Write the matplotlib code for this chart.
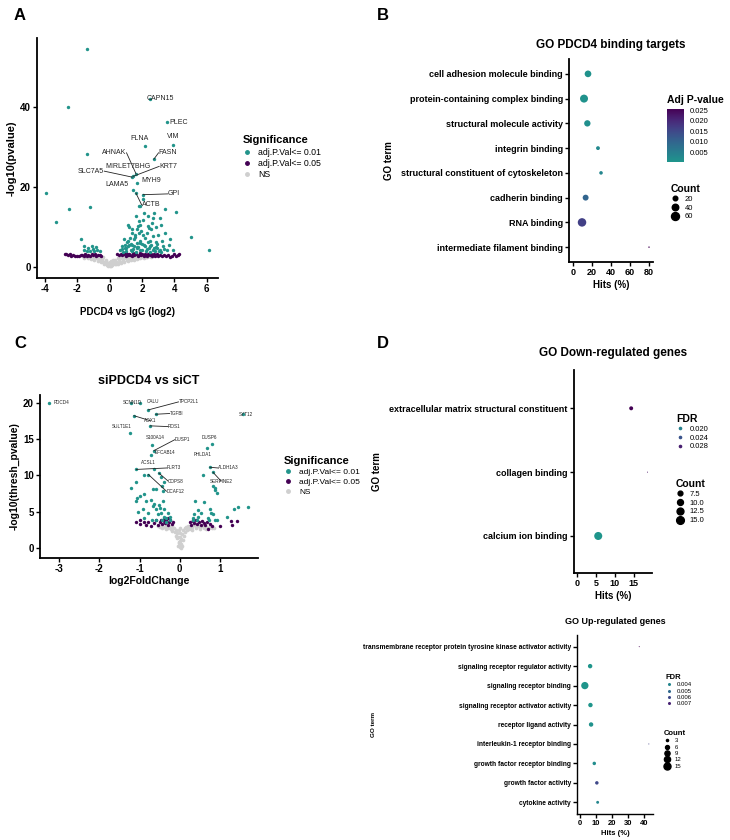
"""
Four-panel PDCD4 figure: volcano plots and GO dot plots
"""
import numpy as np
import matplotlib
matplotlib.use('Agg')
import matplotlib.pyplot as plt
from matplotlib.colors import ListedColormap, Normalize
from matplotlib.lines import Line2D

# =============================================================================
#     Data
# =============================================================================

# Panel A - PDCD4 vs IgG volcano
a_teal_x = [-1.43, -2.56, -1.39, -3.96, -2.52, -1.20, -3.34, -1.76, 2.52, 3.55,
            3.94, 2.19, 2.73, 1.62, 1.39, 1.45, 1.66, 1.41, 1.62, 2.07,
            2.07, 1.80, 1.86, 3.39, 4.09, 5.05, 6.14,
            2.13, 2.73, 2.38, 2.69, 1.60, 1.82, 2.07, 1.86, 1.10, 1.21,
            1.39, 1.66, 2.34, 2.58, 2.89, 3.14, 3.20, 3.45, 3.72, 1.35,
            1.82, 2.07, 2.28, 2.69, 3.00, 0.88, 1.04, 1.25, 1.51, 1.66,
            1.86, 2.38, 2.58, 2.89, 3.24, 0.73, 0.94, 1.14, 1.35, 1.45,
            1.76, 1.97, 2.17, 2.44, 2.69, 2.89, 3.30, 3.65, 3.92, 3.57,
            0.63, 1.00, 1.31, 1.62, 1.86, 2.23, 2.48, 3.06, 3.35, 3.20,
            -1.61, -1.59, -1.33, -1.12, -1.06, -0.87, -1.39, -0.77, -0.60, -1.22,
            -0.95, 1.55, 2.00, 1.20, 2.95, 0.85, 1.70, 2.50,
            1.00, 1.15, 1.30, 1.50, 1.70, 1.90, 2.10, 2.30, 2.50, 2.75,
            2.95, 3.10, 1.55, 1.95, 2.20, 2.45, 2.60, 0.78, 0.95, 1.40,
            2.80, 1.72]
a_teal_y = [54.6, 40.1, 28.3, 18.4, 14.6, 15.1, 11.2, 7.1, 42.2, 36.3,
            30.6, 30.3, 27.0, 23.3, 22.5, 22.7, 21.1, 19.2, 18.5, 18.1,
            17.0, 15.2, 15.3, 14.6, 13.8, 7.4, 4.2,
            13.4, 13.5, 12.7, 12.3, 12.7, 11.4, 11.7, 10.6, 10.4, 9.9,
            9.5, 9.4, 10.2, 9.4, 9.9, 12.3, 10.6, 8.5, 6.9, 8.5,
            8.5, 7.9, 8.5, 7.7, 8.1, 6.9, 6.2, 7.3, 6.9, 6.0,
            6.4, 6.2, 5.6, 6.2, 6.4, 5.2, 4.8, 5.2, 5.4, 4.5,
            5.0, 4.3, 5.2, 4.8, 4.3, 5.0, 5.2, 5.6, 4.2, 4.2,
            4.2, 3.9, 4.2, 3.8, 4.2, 3.9, 3.8, 3.9, 4.5, 3.8,
            5.2, 4.3, 4.8, 5.3, 4.5, 5.0, 3.9, 4.2, 3.9, 3.9,
            3.9, 7.6, 5.8, 5.5, 4.6, 3.7, 4.9, 6.6,
            4.6, 6.6, 5.8, 5.3, 4.7, 6.1, 5.6, 4.5, 5.3, 4.6,
            5.7, 4.2, 8.0, 9.0, 7.2, 9.8, 11.0, 4.5, 5.5, 4.0,
            3.9, 10.2]

a_purple_x = [-2.78, -2.68, -2.58, -2.48, -2.38, -2.25, -2.12, -2.00, -1.90, -1.80,
              -1.70, -1.60, -1.50, -1.42, -1.32, -1.22, -1.12, -1.02, -0.92, -0.82,
              -0.72, -0.62, -0.52,
              0.48, 0.58, 0.68, 0.78, 0.88, 0.98, 1.05, 1.12, 1.20, 1.28,
              1.35, 1.42, 1.50, 1.58, 1.65, 1.72, 1.80, 1.88, 1.95, 2.02,
              2.10, 2.18, 2.25, 2.32, 2.40, 2.48, 2.55, 2.62, 2.70, 2.80,
              2.90, 3.00, 3.12, 3.25, 3.38, 3.50, 3.62, 3.72, 3.85, 3.98,
              4.10, 4.20, 4.30, 1.00, 1.45, 1.90, 2.35, 2.75]
a_purple_y = [3.1, 3.2, 2.9, 3.1, 2.7, 2.9, 2.6, 2.8, 2.7, 2.9,
              3.0, 2.8, 3.1, 2.7, 3.0, 2.8, 3.1, 2.9, 3.2, 2.8,
              3.0, 2.9, 2.8,
              3.1, 2.9, 3.2, 3.0, 3.3, 2.8, 3.1, 2.9, 3.3, 3.0,
              2.8, 3.2, 2.9, 3.1, 3.3, 2.8, 3.0, 3.2, 2.9, 3.1,
              2.8, 3.3, 3.0, 2.7, 3.1, 2.9, 3.2, 2.8, 3.0, 2.7,
              3.1, 2.8, 3.0, 2.7, 2.9, 2.8, 3.0, 2.5, 2.8, 3.1,
              2.7, 2.9, 3.1, 3.4, 3.4, 3.4, 3.3, 3.3]

a_ns_x = [-1.65, -1.55, -1.45, -1.35, -1.25, -1.15, -1.05, -0.95, -0.85, -0.75,
          -0.65, -0.55, -0.45, -0.35, -0.25, -0.15, -0.08, 0.00, 0.05, 0.12,
          0.20, 0.30, 0.40, 0.50, 0.60, 0.70, 0.80, 0.90, 1.00, 1.10,
          1.20, 1.30, 1.40, 1.50, 1.60, 1.70, 1.80, 1.90, 2.00, 2.10,
          2.20, 2.30, 2.40, 2.55, 2.70, -1.60, -1.00, -0.50, 0.50, 1.00,
          -0.60, 0.80, 0.20, -0.20, 0.60, 1.50, 0.00, -0.10, 0.08, 1.20,
          0.40, -0.40, 1.75, 2.25, -1.30, -0.90,
          -1.50, -1.20, -0.80, -0.40, -0.20, 0.10, 0.30, 0.70, 0.90, 1.10,
          1.30, 1.60, 1.90, 2.10, 2.35, 2.60, 0.15, -0.30, -0.70, 0.45,
          1.05, -1.10, 0.65, 1.40, -0.05, 0.25, -0.50]
a_ns_y = [2.6, 2.4, 2.6, 2.2, 2.5, 2.0, 2.4, 1.7, 2.3, 1.4,
          2.1, 1.1, 1.8, 0.8, 1.5, 0.5, 1.0, 0.2, 0.7, 0.4,
          1.0, 0.6, 1.3, 0.8, 1.6, 1.0, 1.9, 1.2, 2.2, 1.4,
          2.4, 1.6, 2.5, 1.8, 2.4, 2.0, 2.6, 2.1, 2.5, 2.3,
          2.6, 2.4, 2.6, 2.5, 2.6, 2.2, 2.6, 2.2, 2.2, 2.6,
          1.6, 1.5, 1.6, 1.6, 2.1, 2.3, 1.2, 0.3, 0.15, 2.0,
          0.6, 1.2, 2.3, 2.5, 2.6, 2.5,
          2.7, 2.7, 2.6, 2.4, 1.2, 1.4, 1.7, 2.2, 2.5, 2.5,
          2.2, 2.7, 2.5, 2.6, 2.6, 2.6, 0.9, 1.0, 2.4, 1.0,
          1.8, 2.2, 1.3, 2.0, 0.6, 1.3, 2.0]

# (label, text x, text y, point x, point y, ha)
a_labels = [('CAPN15', 2.30, 42.2, None, None, 'left'),
            ('PLEC', 3.72, 36.3, None, None, 'left'),
            ('VIM', 3.94, 32.6, None, None, 'center'),
            ('FLNA', 1.86, 32.2, None, None, 'center'),
            ('AHNAK', 1.04, 28.6, 1.62, 23.4, 'right'),
            ('FASN', 3.02, 28.6, 2.73, 27.0, 'left'),
            ('MIRLET7BHG', 1.14, 25.2, None, None, 'center'),
            ('KRT7', 3.06, 25.2, 1.45, 22.7, 'left'),
            ('SLC7A5', -0.34, 24.0, 1.39, 22.5, 'right'),
            ('MYH9', 1.97, 21.6, None, None, 'left'),
            ('LAMA5', 1.14, 20.6, None, None, 'right'),
            ('GPI', 3.61, 18.3, 2.07, 18.1, 'left'),
            ('ACTB', 1.97, 15.6, 1.62, 18.5, 'left')]

# Panel B - GO PDCD4 binding targets
b_terms = ['cell adhesion molecule binding', 'protein-containing complex binding',
           'structural molecule activity', 'integrin binding',
           'structural constituent of cytoskeleton', 'cadherin binding',
           'RNA binding', 'intermediate filament binding']
b_hits = [15.8, 11.6, 15.1, 26.3, 29.5, 13.3, 9.5, 80.0]
b_count = [42, 60, 38, 14, 12, 33, 68, 2]
b_padj = [0.0012, 0.0010, 0.0018, 0.0030, 0.0035, 0.0100, 0.0165, 0.0250]

# Panel C - siPDCD4 vs siCT volcano
c_teal_x = [-3.25, -1.22, -1.00, -0.78, -0.60, -1.14, -0.73, -1.25, -0.68, -0.64,
            -0.71, 0.80, 0.67, 1.57, -1.08, -0.63, 0.75, 0.83, -0.52, -0.78,
            -0.90, -0.46, -1.21, -1.08, -0.67, -0.58, -0.42, -0.38, -0.43, 0.58,
            0.87, 0.87, 0.92, 0.83, -1.08, -1.06, -1.00, -0.89, -0.83, -0.92,
            -1.04, -0.79, -0.68, -0.90, -0.71, -0.67, -0.58, -0.63, -0.52, -0.48,
            -0.42, -0.40, -0.46, -0.54, -0.38, -0.29, -0.33, -0.43, -0.58, -0.25,
            -0.33, -0.23, 0.375, 0.60, 0.46, 0.53, 0.35, 0.32, 0.42, 0.33,
            0.46, 0.75, 0.77, 0.83, 0.71, 0.87, 0.92, 0.73, 1.17, 1.36,
            1.44, 1.71]
c_teal_y = [20.0, 20.0, 20.0, 19.0, 18.4, 18.2, 16.8, 15.8, 14.2, 13.4,
            12.8, 14.3, 13.8, 18.4, 10.8, 10.8, 11.1, 10.4, 10.3, 10.1,
            10.0, 9.7, 8.2, 9.1, 8.1, 8.1, 7.8, 9.0, 8.5, 10.0,
            8.2, 7.9, 7.6, 8.5, 6.4, 6.9, 7.1, 7.4, 6.4, 5.4,
            5.0, 4.8, 3.9, 4.1, 6.6, 5.7, 5.3, 6.1, 5.9, 5.5,
            6.4, 5.3, 4.8, 4.6, 4.3, 4.8, 4.1, 3.9, 3.8, 3.9,
            3.5, 4.3, 6.5, 6.3, 5.2, 4.8, 4.6, 4.1, 3.9, 3.8,
            4.3, 5.4, 4.8, 4.6, 4.1, 3.9, 3.8, 3.9, 4.3, 5.3,
            5.6, 5.6]

c_purple_x = [-1.10, -1.00, -0.98, -0.90, -0.85, -0.80, -0.72, -0.65, -0.60, -0.55,
              -0.50, -0.47, -0.44, -0.40, -0.36, -0.33, -0.30, -0.27, -0.24, -0.20,
              -0.17, 0.25, 0.28, 0.32, 0.36, 0.40, 0.44, 0.48, 0.52, 0.56,
              0.60, 0.64, 0.68, 0.71, 0.75, 0.80, 1.00, 1.27, 1.29, 1.42,
              -0.38, -0.30, 0.34]
c_purple_y = [3.6, 3.3, 3.8, 3.5, 3.2, 3.6, 3.0, 3.4, 3.8, 3.2,
              3.6, 3.9, 3.3, 3.7, 3.4, 3.9, 3.1, 3.6, 3.8, 3.3,
              3.6, 3.5, 3.2, 3.7, 3.4, 3.8, 3.3, 3.6, 3.2, 3.7,
              3.4, 3.1, 3.6, 2.6, 3.3, 3.0, 3.0, 3.7, 3.1, 3.7,
              4.0, 4.1, 3.9]

c_ns_x = [0.00, 0.02, -0.02, 0.03, -0.04, 0.05, -0.06, 0.08, -0.10, 0.12,
          -0.15, 0.15, -0.20, 0.20, -0.25, 0.25, -0.30, 0.30, -0.35, 0.35,
          -0.40, 0.40, -0.45, 0.45, -0.50, 0.50, 0.55, 0.60, 0.65, 0.70,
          0.75, 0.80, 0.85, -0.55, 0.00, 0.00, 0.00, -0.05, 0.05, -0.10,
          0.10, -0.02, 0.18, -0.18,
          -0.12, 0.14, -0.08, 0.07, 0.00, 0.22, -0.22, 0.30, 0.50, 0.65,
          -0.35, -0.45, 0.40, 0.02, -0.01]
c_ns_y = [0.1, 0.5, 0.8, 1.2, 1.5, 1.9, 2.1, 2.4, 2.5, 2.7,
          2.8, 2.9, 3.0, 3.0, 2.9, 2.8, 2.8, 2.9, 3.0, 3.1,
          2.9, 2.8, 3.0, 3.0, 2.9, 2.9, 3.0, 2.8, 2.9, 2.8,
          2.9, 2.7, 2.8, 3.0, 1.0, 2.0, 2.7, 0.3, 0.3, 1.6,
          1.6, 2.4, 2.4, 2.3,
          2.2, 2.2, 1.3, 1.1, 1.5, 2.6, 2.6, 2.5, 2.6, 2.6,
          2.6, 2.7, 3.2, 0.0, 0.6]

c_labels = [('PDCD4', -3.13, 20.0, None, None, 'left'),
            ('SCNN1D', -1.17, 20.0, None, None, 'center'),
            ('CALU', -0.83, 20.1, None, None, 'left'),
            ('TPCP2L1', -0.03, 20.1, -0.78, 19.0, 'left'),
            ('TGFBI', -0.25, 18.5, -0.60, 18.4, 'left'),
            ('AOX1', -0.73, 17.5, -1.14, 18.2, 'center'),
            ('ROS1', -0.29, 16.7, -0.73, 16.8, 'left'),
            ('SULT1E1', -1.44, 16.7, None, None, 'center'),
            ('S100A14', -0.61, 15.2, None, None, 'center'),
            ('DUSP1', -0.12, 14.9, -0.64, 13.4, 'left'),
            ('EFCAB14', -0.62, 13.1, None, None, 'left'),
            ('DUSP6', 0.73, 15.2, None, None, 'center'),
            ('PHLDA1', 0.58, 12.8, None, None, 'center'),
            ('SYT12', 1.65, 18.4, None, None, 'center'),
            ('ACSL1', -0.79, 11.7, None, None, 'center'),
            ('FLRT3', -0.32, 11.0, -1.08, 10.8, 'left'),
            ('ALDH1A3', 0.95, 11.0, 0.75, 11.1, 'left'),
            ('SERPINE2', 1.03, 9.2, 0.83, 10.4, 'center'),
            ('COPS8', -0.29, 9.2, -0.52, 10.3, 'left'),
            ('DCAF12', -0.33, 7.8, -0.78, 10.1, 'left')]

# Panel D - GO down-regulated
d_terms = ['extracellular matrix structural constituent', 'collagen binding',
           'calcium ion binding']
d_hits = [14.3, 18.6, 5.6]
d_count = [6, 3, 16]
d_fdr = [0.030, 0.029, 0.018]

# Panel D - GO up-regulated
u_terms = ['transmembrane receptor protein tyrosine kinase activator activity',
           'signaling receptor regulator activity', 'signaling receptor binding',
           'signaling receptor activator activity', 'receptor ligand activity',
           'interleukin-1 receptor binding', 'growth factor receptor binding',
           'growth factor activity', 'cytokine activity']
u_hits = [37.0, 6.3, 3.0, 6.5, 6.9, 43.0, 8.9, 10.5, 11.0]
u_count = [2, 7, 16, 7, 7, 2, 5, 5, 4]
u_fdr = [0.0078, 0.0035, 0.0035, 0.0035, 0.0036, 0.0062, 0.0038, 0.0060, 0.0040]

# =============================================================================
#     Plot
# =============================================================================

W, H = 730, 840
TEAL = '#22948b'
PURPLE = '#440154'
GREY = '#cfcfcf'
cmap = ListedColormap(plt.cm.viridis(np.linspace(0.52, 0.0, 256)))

plt.rcParams['font.family'] = ['Liberation Sans', 'DejaVu Sans']
plt.rcParams['axes.unicode_minus'] = False

fig = plt.figure(figsize=(W / 100, H / 100), dpi=100)


def px_axes(x0, y0, x1, y1):
    return fig.add_axes([x0 / W, 1 - y1 / H, (x1 - x0) / W, (y1 - y0) / H])


def style(ax, fs, lw=1.3):
    for s in ['top', 'right']:
        ax.spines[s].set_visible(False)
    for s in ['left', 'bottom']:
        ax.spines[s].set_linewidth(lw)
    ax.tick_params(width=1.0, length=3, labelsize=fs, pad=1.5)
    plt.setp(ax.get_xticklabels() + ax.get_yticklabels(), fontweight='bold')


def make_legend(ax, handles, labels, title, x, y, fs, tfs, spacing=0.2):
    return ax.legend(handles, labels, title=title, loc='upper left',
                     bbox_to_anchor=(x / W, 1 - y / H), bbox_transform=fig.transFigure,
                     frameon=False, fontsize=fs, handlelength=1.0, handletextpad=0.8,
                     labelspacing=spacing, borderpad=0, alignment='left',
                     title_fontproperties={'weight': 'bold', 'size': tfs})


def sig_legend(ax, x, y, fs, tfs, ms):
    handles = [Line2D([], [], marker='o', ls='', color=c, markersize=ms)
               for c in (TEAL, PURPLE, GREY)]
    return make_legend(ax, handles, ['adj.P.Val<= 0.01', 'adj.P.Val<= 0.05', 'NS'],
                       'Significance', x, y, fs, tfs, spacing=0.25)


def size_legend(ax, counts, sfun, x, y, fs, tfs):
    handles = [Line2D([], [], marker='o', ls='', color='black',
                      markersize=np.sqrt(sfun(c))) for c in counts]
    return make_legend(ax, handles, [str(c) for c in counts], 'Count', x, y, fs, tfs)


def fdr_legend(ax, vals, norm, x, y, fs, tfs, ms):
    handles = [Line2D([], [], marker='o', ls='', color=cmap(norm(v)), markersize=ms)
               for v in vals]
    return make_legend(ax, handles, [f'{v:.3f}' for v in vals], 'FDR', x, y, fs, tfs)


def gene_labels(ax, labels, fs):
    for name, tx, ty, px, py, ha in labels:
        if px is not None:
            ax.plot([tx, px], [ty, py], color='#222222', lw=0.6, zorder=4)
        ax.text(tx, ty, name, fontsize=fs, ha=ha, va='center', color='#222222',
                zorder=5)


# ---------------- Panel A ----------------
axA = px_axes(37, 38, 218, 278)
axA.scatter(a_ns_x, a_ns_y, s=7, color=GREY, lw=0, zorder=1)
axA.scatter(a_purple_x, a_purple_y, s=6, color=PURPLE, lw=0, zorder=2)
axA.scatter(a_teal_x, a_teal_y, s=6, color=TEAL, lw=0, zorder=3)
gene_labels(axA, a_labels, 5)
axA.set_xlim(-4.5, 6.7)
axA.set_ylim(-2.8, 57.4)
axA.set_xticks([-4, -2, 0, 2, 4, 6])
axA.set_yticks([0, 20, 40])
style(axA, 7)
axA.set_xlabel('PDCD4 vs IgG (log2)', fontsize=7, fontweight='bold', labelpad=9)
axA.set_ylabel('-log10(pvalue)', fontsize=8, fontweight='bold', labelpad=2)
sig_legend(axA, 238, 131, 6.3, 8, 2.5)

# ---------------- Panel B ----------------
normB = Normalize(0.0005, 0.0255)
yB = np.arange(len(b_terms), 0, -1)
axB = px_axes(569, 59, 653, 262)
axB.scatter(b_hits, yB, s=[c * 0.55 for c in b_count], c=b_padj, cmap=cmap,
            norm=normB, lw=0, zorder=3)
axB.set_xlim(-4.2, 84.2)
axB.set_ylim(0.4, len(b_terms) + 0.6)
axB.set_xticks([0, 20, 40, 60, 80])
axB.set_yticks(yB)
axB.set_yticklabels(b_terms)
style(axB, 6.5)
axB.set_title('GO PDCD4 binding targets', fontsize=8.5, fontweight='bold', pad=8)
axB.set_xlabel('Hits (%)', fontsize=7, fontweight='bold', labelpad=2)
axB.set_ylabel('GO term', fontsize=7, fontweight='bold')
axB.yaxis.set_label_coords(-2.08, 0.5)

cax = px_axes(667, 109, 684, 162)
cb = fig.colorbar(plt.cm.ScalarMappable(norm=normB, cmap=cmap), cax=cax)
cb.set_ticks([0.005, 0.010, 0.015, 0.020, 0.025])
cb.outline.set_visible(False)
cax.tick_params(labelsize=5.5, length=2, color='white', pad=2)
fig.text(667 / W, 1 - 100 / H, 'Adj P-value', fontsize=7.5, fontweight='bold',
         va='center', ha='left')
size_legend(axB, [20, 40, 60], lambda c: c * 0.55, 667, 180, 5.5, 7.5)

# ---------------- Panel C ----------------
axC = px_axes(40, 395, 258, 558)
axC.scatter(c_ns_x, c_ns_y, s=7, color=GREY, lw=0, zorder=1)
axC.scatter(c_purple_x, c_purple_y, s=6, color=PURPLE, lw=0, zorder=2)
axC.scatter(c_teal_x, c_teal_y, s=6, color=TEAL, lw=0, zorder=3)
gene_labels(axC, c_labels, 3.3)
axC.set_xlim(-3.48, 1.95)
axC.set_ylim(-1.4, 21.05)
axC.set_xticks([-3, -2, -1, 0, 1])
axC.set_yticks([0, 5, 10, 15, 20])
style(axC, 7)
axC.set_title('siPDCD4 vs siCT', fontsize=9, fontweight='bold', pad=8)
axC.set_xlabel('log2FoldChange', fontsize=7.5, fontweight='bold', labelpad=1)
axC.set_ylabel('-log10(thresh_pvalue)', fontsize=7.5, fontweight='bold', labelpad=2)
sig_legend(axC, 280, 452, 6, 8, 2.5)

# ---------------- Panel D (down) ----------------
normD = Normalize(min(d_fdr), max(d_fdr))
sD = lambda c: 0.5 + (c - 3) / 13 * 33
yD = np.arange(len(d_terms), 0, -1)
axD = px_axes(574, 370, 652, 573)
axD.scatter(d_hits, yD, s=[sD(c) for c in d_count], c=d_fdr, cmap=cmap, norm=normD,
            lw=0, zorder=3)
axD.set_xlim(-0.8, 19.8)
axD.set_ylim(0.42, 3.6)
axD.set_xticks([0, 5, 10, 15])
axD.set_yticks(yD)
axD.set_yticklabels(d_terms)
style(axD, 6.5)
axD.set_title('GO Down-regulated genes', fontsize=8.5, fontweight='bold', pad=10)
axD.set_xlabel('Hits (%)', fontsize=7, fontweight='bold', labelpad=2)
axD.set_ylabel('GO term', fontsize=7, fontweight='bold')
axD.yaxis.set_label_coords(-2.46, 0.5)
leg1 = fdr_legend(axD, [0.020, 0.024, 0.028], normD, 672, 410, 5.5, 7.5, 1.6)
axD.add_artist(leg1)
size_legend(axD, [7.5, 10.0, 12.5, 15.0], sD, 672, 475, 5.5, 7.5)

# ---------------- Panel D (up) ----------------
normU = Normalize(min(u_fdr), max(u_fdr))
sU = lambda c: 0.5 + (c - 2) / 14 * 27
yU = np.arange(len(u_terms), 0, -1)
axU = px_axes(577, 635, 653, 814)
axU.scatter(u_hits, yU, s=[sU(c) for c in u_count], c=u_fdr, cmap=cmap, norm=normU,
            lw=0, zorder=3)
axU.set_xlim(-1.9, 45.6)
axU.set_ylim(0.4, len(u_terms) + 0.6)
axU.set_xticks([0, 10, 20, 30, 40])
axU.set_yticks(yU)
axU.set_yticklabels(u_terms)
style(axU, 4.8, lw=1.0)
axU.tick_params(axis='x', labelsize=5.5)
axU.set_title('GO Up-regulated genes', fontsize=6.5, fontweight='bold', pad=8)
axU.set_xlabel('Hits (%)', fontsize=5.5, fontweight='bold', labelpad=2)
axU.set_ylabel('GO term', fontsize=4.5, fontweight='bold')
axU.yaxis.set_label_coords(-2.65, 0.5)
leg2 = fdr_legend(axU, [0.004, 0.005, 0.006, 0.007], normU, 663, 671, 4.3, 5.5, 1.2)
axU.add_artist(leg2)
size_legend(axU, [3, 6, 9, 12, 15], sU, 661, 727, 4.3, 5.5)

# Panel letters
for letter, x, y in [('A', 14, 15), ('B', 377, 15), ('C', 14, 343), ('D', 377, 343)]:
    fig.text(x / W, 1 - y / H, letter, fontsize=12, fontweight='bold',
             va='center', ha='left')

fig.savefig('out.png', dpi=100)
